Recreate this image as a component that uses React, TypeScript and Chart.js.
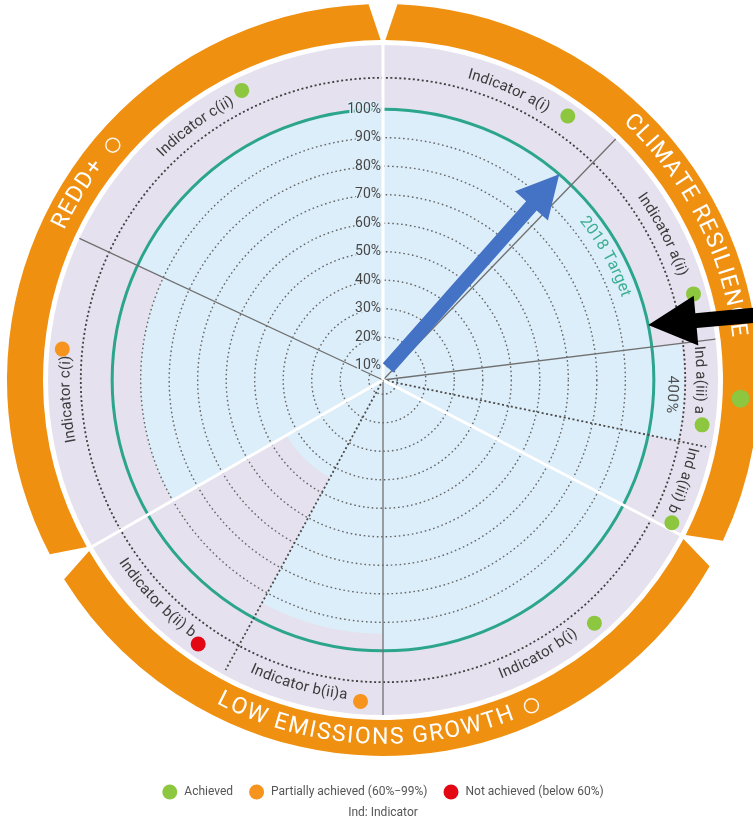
import React, { useEffect, useRef } from "react";
import { Chart, registerables } from "chart.js";

Chart.register(...registerables);

// ---------------- data ----------------
const indicatorLabels = [
  "Indicator a(i)",
  "Indicator a(ii)",
  "Ind a(iii) a",
  "Ind a(iii) b",
  "Indicator b(i)",
  "Indicator b(ii)a",
  "Indicator b(ii) b",
  "Indicator c(i)",
  "Indicator c(ii)",
];
// angular width (degrees) of each indicator sector, clockwise from 12 o'clock
const sectorAngles = [44, 39, 18.7, 15.8, 62.5, 28.5, 31.7, 54.8, 65];
// achievement (% of 2018 target)
const achievedPct = [100, 100, 400, 100, 100, 94, 44, 90, 100];
const indicatorStatus = ["achieved", "achieved", "achieved", "achieved", "achieved", "partial", "not", "partial", "achieved"];

const pillarNames = ["CLIMATE RESILIENCE", "LOW EMISSIONS GROWTH", "REDD+"];
const pillarSize = [4, 3, 2];
const pillarStatus = ["achieved", "none", "none"];

const tickValues = [10, 20, 30, 40, 50, 60, 70, 80, 90, 100];
const targetPct = 100;
const targetLabel = "2018 Target";

const legendStatus = ["achieved", "partial", "not"];
const legendLabels = ["Achieved", "Partially achieved (60%\u221299%)", "Not achieved (below 60%)"];
const footnote = "Ind: Indicator";

// ---------------- styles / layout ----------------
const FONT = 'Roboto, "Open Sans", "DejaVu Sans", sans-serif';
const LAVENDER = "#E5E1EE";
const LIGHT_BLUE = "#DCEEFA";
const TEAL = "#2BA58C";
const ORANGE = "#F09010";
const statusColor: Record<string, string> = { achieved: "#8DC63F", partial: "#F7941D", not: "#E30613" };

const SCALE_MIN = 5;
const SCALE_MAX = 122.5;
const DISPLAY_CAP = 110.5; // values beyond the outer ring are drawn up to it
const OUTER_RING = 111;

// divider style drawn at the END of each sector
const dividerStyle = ["solid", "solid", "dotted", "white", "solid", "dotted", "white", "solid", "white"];

// label placement: bearing of text centre, bearing of status dot, reading mode
const labelLayout = [
  { text: 23.5, dot: 35, mode: "cw" },
  { text: 62.5, dot: 74.5, mode: "cw" },
  { text: 90, dot: 98, mode: "cw" },
  { text: 108.5, dot: 116.3, mode: "cw" },
  { text: 150.5, dot: 139, mode: "ccw" },
  { text: 195.5, dot: 184, mode: "ccw" },
  { text: 226, dot: 215, mode: "ccw" },
  { text: 266.5, dot: 275.5, mode: "cw" },
  { text: 323.5, dot: 334, mode: "cw" },
];
const bandLayout = [
  { text: 63, mode: "cw", mark: 93 },
  { text: 183, mode: "ccw", mark: 155.5 },
  { text: 301.3, mode: "cw", mark: 311 },
];
const arrowLayout = [
  { fromBearing: 22.6, fromValue: 9.6, toBearing: 40.6, toValue: targetPct, color: "#4472C4", shaft: 14, head: 44, headLen: 42 },
  { fromBearing: 80.2, fromValue: 140, toBearing: 78.3, toValue: targetPct, color: "#000000", shaft: 15, head: 50, headLen: 48 },
];

function toRad(d: number) {
  return (d * Math.PI) / 180;
}
function pt(cx: number, cy: number, r: number, deg: number): [number, number] {
  const b = toRad(deg);
  return [cx + r * Math.sin(b), cy - r * Math.cos(b)];
}
function canvasAng(deg: number) {
  return toRad(deg - 90);
}

function arcText(
  ctx: CanvasRenderingContext2D,
  text: string,
  cx: number,
  cy: number,
  r: number,
  centerDeg: number,
  mode: string,
  spacing = 0
) {
  const chars = Array.from(text);
  const widths = chars.map((c) => ctx.measureText(c).width);
  const total = widths.reduce((a, b) => a + b, 0) + spacing * (chars.length - 1);
  const dir = mode === "cw" ? 1 : -1;
  const start = toRad(centerDeg) - (dir * total) / (2 * r);
  let acc = 0;
  ctx.textAlign = "center";
  ctx.textBaseline = "middle";
  chars.forEach((c, i) => {
    const b = start + (dir * (acc + widths[i] / 2)) / r;
    ctx.save();
    ctx.translate(cx + r * Math.sin(b), cy - r * Math.cos(b));
    ctx.rotate(mode === "cw" ? b : b - Math.PI);
    ctx.fillText(c, 0, 0);
    ctx.restore();
    acc += widths[i] + spacing;
  });
}

function drawArrow(
  ctx: CanvasRenderingContext2D,
  x1: number,
  y1: number,
  x2: number,
  y2: number,
  shaft: number,
  head: number,
  headLen: number,
  color: string
) {
  const dx = x2 - x1;
  const dy = y2 - y1;
  const len = Math.hypot(dx, dy);
  const ux = dx / len;
  const uy = dy / len;
  const nx = -uy;
  const ny = ux;
  const bx = x2 - ux * headLen;
  const by = y2 - uy * headLen;
  ctx.beginPath();
  ctx.moveTo(x1 + (nx * shaft) / 2, y1 + (ny * shaft) / 2);
  ctx.lineTo(bx + (nx * shaft) / 2, by + (ny * shaft) / 2);
  ctx.lineTo(bx + (nx * head) / 2, by + (ny * head) / 2);
  ctx.lineTo(x2, y2);
  ctx.lineTo(bx - (nx * head) / 2, by - (ny * head) / 2);
  ctx.lineTo(bx - (nx * shaft) / 2, by - (ny * shaft) / 2);
  ctx.lineTo(x1 - (nx * shaft) / 2, y1 - (ny * shaft) / 2);
  ctx.closePath();
  ctx.fillStyle = color;
  ctx.fill();
}

function sectorStarts(): number[] {
  const out: number[] = [];
  let acc = 0;
  sectorAngles.forEach((a) => {
    out.push(acc);
    acc += a;
  });
  return out;
}

const infographicPlugin = {
  id: "infographic",
  beforeDatasetsDraw(chart: any) {
    const s = chart.scales.r;
    const ctx: CanvasRenderingContext2D = chart.ctx;
    const cx = s.xCenter;
    const cy = s.yCenter;
    const R = s.drawingArea;
    ctx.save();
    ctx.fillStyle = LAVENDER;
    ctx.beginPath();
    ctx.arc(cx, cy, R, 0, Math.PI * 2);
    ctx.fill();

    // pillar bands
    const starts = sectorStarts();
    const rIn = R + 5;
    const rOut = R + 41;
    let idx = 0;
    pillarSize.forEach((n, p) => {
      const from = starts[idx];
      let to = from;
      for (let k = 0; k < n; k++) to += sectorAngles[idx + k];
      idx += n;
      const fi = from + 0.4;
      const fo = from + 2.2;
      const ti = to - 0.4;
      const to2 = to - 2.2;
      ctx.beginPath();
      const [sx, sy] = pt(cx, cy, rOut, fo);
      ctx.moveTo(sx, sy);
      ctx.arc(cx, cy, rOut, canvasAng(fo), canvasAng(to2), false);
      const [ex, ey] = pt(cx, cy, rIn, ti);
      ctx.lineTo(ex, ey);
      ctx.arc(cx, cy, rIn, canvasAng(ti), canvasAng(fi), true);
      ctx.closePath();
      ctx.fillStyle = ORANGE;
      ctx.fill();

      // band title
      const lay = bandLayout[p];
      const rMid = (rIn + rOut) / 2;
      ctx.fillStyle = "#FFFFFF";
      ctx.font = `23px ${FONT}`;
      arcText(ctx, pillarNames[p], cx, cy, rMid, lay.text, lay.mode, 1.5);
      const [mx, my] = pt(cx, cy, rMid, lay.mark);
      ctx.beginPath();
      if (pillarStatus[p] === "none") {
        ctx.arc(mx, my, 7, 0, Math.PI * 2);
        ctx.strokeStyle = "rgba(255,255,255,0.9)";
        ctx.lineWidth = 1.5;
        ctx.stroke();
      } else {
        ctx.arc(mx, my, 9, 0, Math.PI * 2);
        ctx.fillStyle = statusColor[pillarStatus[p]];
        ctx.fill();
      }
    });
    ctx.restore();
  },
  afterDatasetsDraw(chart: any) {
    const s = chart.scales.r;
    const ctx: CanvasRenderingContext2D = chart.ctx;
    const cx = s.xCenter;
    const cy = s.yCenter;
    const R = s.drawingArea;
    const dist = (v: number) => s.getDistanceFromCenterForValue(v);
    ctx.save();

    // dotted rings
    ctx.setLineDash([1.6, 2.8]);
    ctx.strokeStyle = "#666666";
    ctx.lineWidth = 1.4;
    tickValues.forEach((v) => {
      if (v === targetPct) return;
      ctx.beginPath();
      ctx.arc(cx, cy, dist(v), 0, Math.PI * 2);
      ctx.stroke();
    });
    ctx.setLineDash([2, 2.5]);
    ctx.strokeStyle = "#404040";
    ctx.lineWidth = 1.8;
    ctx.beginPath();
    ctx.arc(cx, cy, dist(OUTER_RING), 0, Math.PI * 2);
    ctx.stroke();
    ctx.setLineDash([]);

    // target circle
    ctx.strokeStyle = TEAL;
    ctx.lineWidth = 3;
    ctx.beginPath();
    ctx.arc(cx, cy, dist(targetPct), 0, Math.PI * 2);
    ctx.stroke();

    // dividers
    const starts = sectorStarts();
    sectorAngles.forEach((a, i) => {
      const ang = starts[i] + a;
      const st = dividerStyle[i];
      const r = st === "white" ? R + 5 : st === "solid" ? R : R - 5;
      const [x2, y2] = pt(cx, cy, r, ang);
      ctx.beginPath();
      ctx.moveTo(cx, cy);
      ctx.lineTo(x2, y2);
      if (st === "white") {
        ctx.setLineDash([]);
        ctx.strokeStyle = "#FFFFFF";
        ctx.lineWidth = 3;
      } else if (st === "solid") {
        ctx.setLineDash([]);
        ctx.strokeStyle = "#707070";
        ctx.lineWidth = 1.3;
      } else {
        ctx.setLineDash([2, 2.5]);
        ctx.strokeStyle = "#4a4a4a";
        ctx.lineWidth = 1.8;
      }
      ctx.stroke();
    });
    ctx.setLineDash([]);

    // tick labels
    ctx.font = `14px ${FONT}`;
    ctx.textAlign = "right";
    ctx.textBaseline = "middle";
    ctx.lineJoin = "round";
    tickValues.forEach((v) => {
      const y = cy - dist(v);
      const label = `${v}%`;
      ctx.strokeStyle = LIGHT_BLUE;
      ctx.lineWidth = 3;
      ctx.strokeText(label, cx - 2, y);
      ctx.fillStyle = "#474747";
      ctx.fillText(label, cx - 2, y);
    });

    // target label
    ctx.fillStyle = "#3AAE92";
    ctx.font = `16px ${FONT}`;
    arcText(ctx, targetLabel, cx, cy, dist(targetPct) - 14, 61, "cw", 0.3);

    // overflow value label
    achievedPct.forEach((v, i) => {
      if (v > DISPLAY_CAP) {
        ctx.fillStyle = "#505050";
        ctx.font = `15px ${FONT}`;
        arcText(ctx, `${v}%`, cx, cy, dist(OUTER_RING) - 13, starts[i] + sectorAngles[i] / 2 + 0.5, "cw", 0.5);
      }
    });

    // indicator labels & dots
    const rText = dist(OUTER_RING) + 15;
    const rDot = dist(OUTER_RING) + 20;
    indicatorLabels.forEach((lab, i) => {
      const lay = labelLayout[i];
      ctx.fillStyle = "#3c3c3c";
      ctx.font = `15px ${FONT}`;
      arcText(ctx, lab, cx, cy, rText, lay.text, lay.mode, 0.2);
      const [dx, dy] = pt(cx, cy, rDot, lay.dot);
      ctx.beginPath();
      ctx.arc(dx, dy, 7.5, 0, Math.PI * 2);
      ctx.fillStyle = statusColor[indicatorStatus[i]];
      ctx.fill();
    });

    // annotation arrows
    arrowLayout.forEach((a) => {
      const [x1, y1] = pt(cx, cy, dist(a.fromValue), a.fromBearing);
      const [x2, y2] = pt(cx, cy, dist(a.toValue), a.toBearing);
      drawArrow(ctx, x1, y1, x2, y2, a.shaft, a.head, a.headLen, a.color);
    });

    // legend
    ctx.font = `12px ${FONT}`;
    ctx.textAlign = "left";
    ctx.textBaseline = "middle";
    const dotR = 7.5;
    const gapDot = 7;
    const gapItem = 16;
    const widths = legendLabels.map((l) => ctx.measureText(l).width);
    const total = widths.reduce((acc, w) => acc + w + dotR * 2 + gapDot, 0) + gapItem * (legendLabels.length - 1);
    let x = cx - total / 2;
    const ly = cy + R + 77;
    legendLabels.forEach((l, i) => {
      ctx.beginPath();
      ctx.arc(x + dotR, ly, dotR, 0, Math.PI * 2);
      ctx.fillStyle = statusColor[legendStatus[i]];
      ctx.fill();
      ctx.fillStyle = "#555555";
      ctx.fillText(l, x + dotR * 2 + gapDot, ly);
      x += dotR * 2 + gapDot + widths[i] + gapItem;
    });
    ctx.textAlign = "center";
    ctx.fillText(footnote, cx, ly + 21);

    ctx.restore();
  },
};

export default function App() {
  const canvasRef = useRef<HTMLCanvasElement | null>(null);

  useEffect(() => {
    if (!canvasRef.current) return;
    const chart = new Chart(canvasRef.current, {
      type: "polarArea",
      data: {
        labels: indicatorLabels,
        datasets: [
          {
            data: achievedPct.map((v) => Math.min(v, DISPLAY_CAP)),
            backgroundColor: LIGHT_BLUE,
            borderWidth: 0,
            angle: (c: any) => sectorAngles[c.dataIndex],
          } as any,
        ],
      },
      options: {
        responsive: false,
        animation: false,
        events: [],
        layout: { padding: { left: 48, right: 35, top: 45, bottom: 105 } },
        plugins: { legend: { display: false }, tooltip: { enabled: false } },
        scales: {
          r: {
            min: SCALE_MIN,
            max: SCALE_MAX,
            startAngle: 0,
            ticks: { display: false },
            grid: { display: false },
            angleLines: { display: false },
            pointLabels: { display: false },
          },
        },
      } as any,
      plugins: [infographicPlugin],
    });
    return () => chart.destroy();
  }, []);

  return (
    <div style={{ position: "fixed", left: 0, top: 0, width: 753, height: 820, background: "#fff" }}>
      <canvas ref={canvasRef} width={753} height={820} style={{ display: "block" }} />
    </div>
  );
}
